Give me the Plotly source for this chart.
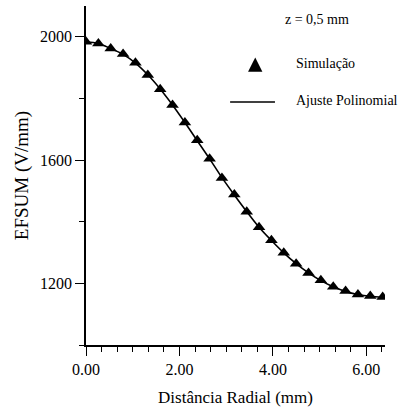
import plotly.graph_objects as go

# Radial distance (mm) and EFSUM (V/mm)
distancia = [0.0, 0.265, 0.529, 0.794, 1.058, 1.323, 1.588, 1.852, 2.117, 2.381,
             2.646, 2.910, 3.175, 3.440, 3.704, 3.969, 4.233, 4.498, 4.763, 5.027,
             5.292, 5.556, 5.821, 6.085, 6.350]
simulacao = [1984, 1978, 1962, 1944, 1916, 1876, 1830, 1779, 1722, 1664,
             1604, 1542, 1488, 1432, 1382, 1340, 1299, 1264, 1234, 1210,
             1189, 1175, 1164, 1159, 1156]
ajuste = [1984, 1978, 1962, 1943, 1915, 1877, 1831, 1779, 1722, 1663,
          1604, 1543, 1487, 1433, 1382, 1339, 1299, 1264, 1234, 1209,
          1189, 1174, 1164, 1158, 1155]

x_ticks = [0, 2, 4, 6]
x_tick_labels = ["0.00", "2.00", "4.00", "6.00"]
y_ticks = [1200, 1600, 2000]
y_tick_labels = ["1200", "1600", "2000"]

FONT = "Liberation Serif"

fig = go.Figure()
fig.add_trace(go.Scatter(x=distancia, y=ajuste, mode="lines",
                         line=dict(color="black", width=1.6, shape="spline"),
                         name="Ajuste Polinomial", showlegend=False))
fig.add_trace(go.Scatter(x=distancia, y=simulacao, mode="markers",
                         marker=dict(symbol="triangle-up", size=11, color="black"),
                         name="Simulação", showlegend=False))

axis_common = dict(showline=True, linecolor="black", linewidth=1.5,
                   showgrid=False, zeroline=False, ticks="outside",
                   tickcolor="black", tickwidth=1.2, ticklen=9,
                   tickfont=dict(family=FONT, size=16, color="black"),
                   mirror=False, automargin=False)

fig.update_xaxes(range=[0, 6.4], tickvals=x_ticks, ticktext=x_tick_labels,
                 minor=dict(dtick=2/6, tick0=0, ticks="outside", ticklen=5,
                            tickcolor="black", tickwidth=1.2),
                 title=dict(text="Distância Radial (mm)",
                            font=dict(family=FONT, size=17, color="black"),
                            standoff=14),
                 **axis_common)
fig.update_yaxes(range=[1000, 2100], tickvals=y_ticks, ticktext=y_tick_labels,
                 minor=dict(dtick=200, tick0=1000, ticks="outside", ticklen=5,
                            tickcolor="black", tickwidth=1.2),
                 title=dict(text="EFSUM (V/mm)",
                            font=dict(family=FONT, size=19, color="black"),
                            standoff=6),
                 **axis_common)

# Legend drawn as annotations/shapes in paper coordinates
ann_font = dict(family=FONT, size=14, color="black")
fig.add_annotation(x=0.659, y=0.959, xref="paper", yref="paper", text="z = 0,5 mm",
                   showarrow=False, xanchor="left", yanchor="middle", font=ann_font)
fig.add_annotation(x=0.696, y=0.829, xref="paper", yref="paper", text="Simulação",
                   showarrow=False, xanchor="left", yanchor="middle", font=ann_font)
fig.add_annotation(x=0.696, y=0.720, xref="paper", yref="paper", text="Ajuste Polinomial",
                   showarrow=False, xanchor="left", yanchor="middle", font=ann_font)
# triangle key
fig.add_shape(type="path", xref="paper", yref="paper",
              path="M 0.542 0.806 L 0.590 0.806 L 0.566 0.848 Z",
              fillcolor="black", line=dict(color="black", width=0))
fig.add_shape(type="line", xref="paper", yref="paper",
              x0=0.482, x1=0.632, y0=0.717, y1=0.717,
              line=dict(color="black", width=1.5))

fig.update_layout(width=404, height=409,
                  margin=dict(l=86, r=19, t=6, b=64),
                  plot_bgcolor="white", paper_bgcolor="white",
                  showlegend=False)

fig.write_html("out.html", config={"displayModeBar": False})

# remove the default browser body margin so the figure sits at the page corner
with open("out.html", "r", encoding="utf-8") as f:
    html = f.read()
html = html.replace("<body>", '<body style="margin:0;overflow:hidden">', 1)
with open("out.html", "w", encoding="utf-8") as f:
    f.write(html)
